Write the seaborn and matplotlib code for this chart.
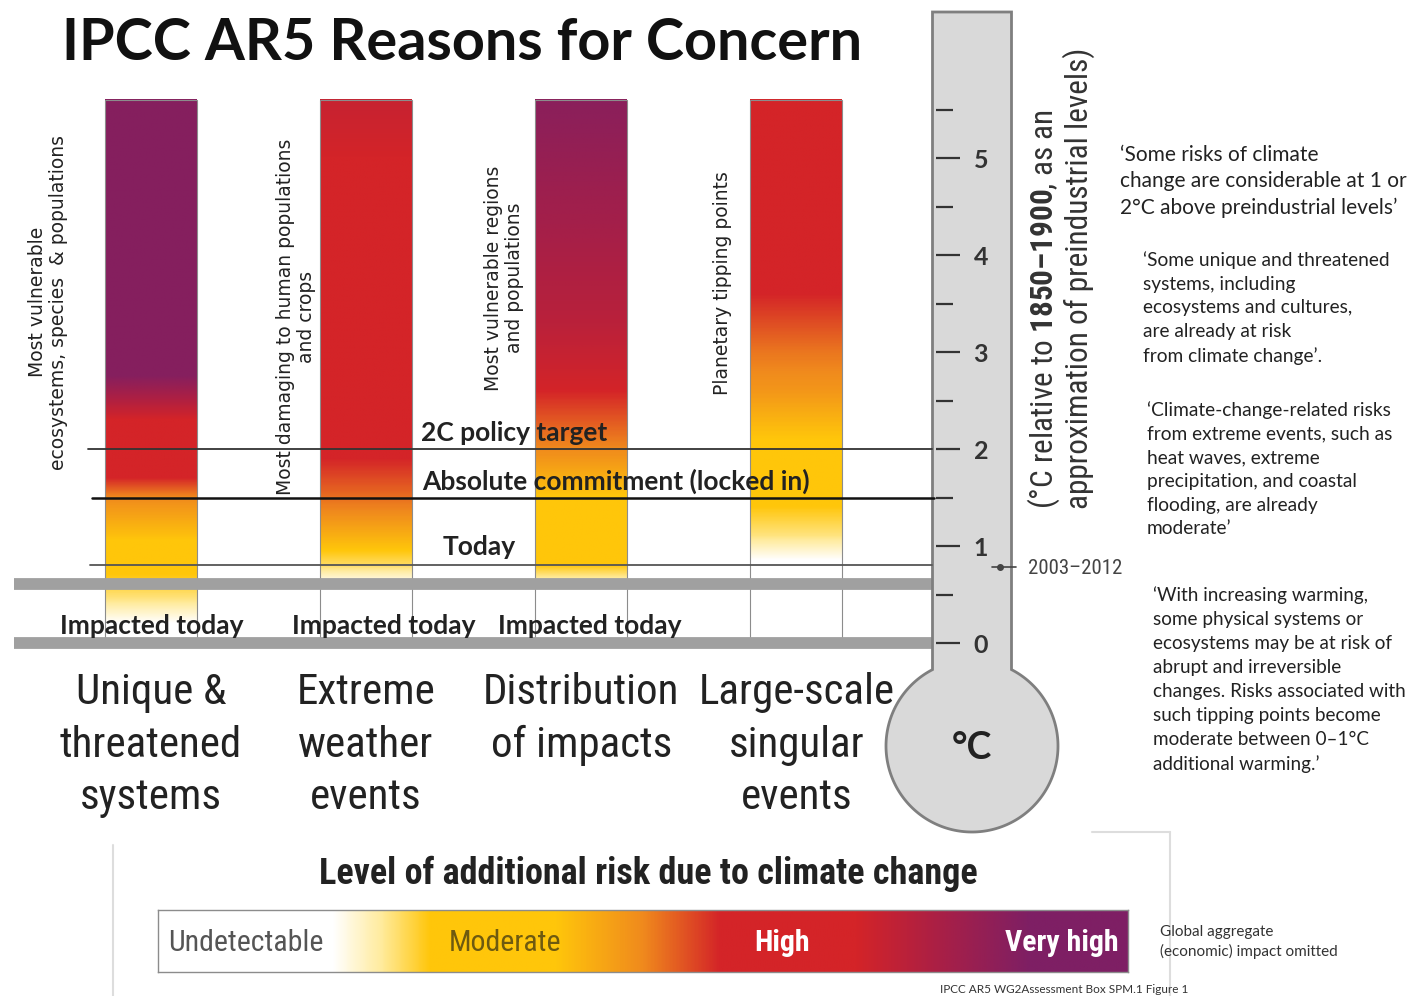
import numpy as np
import seaborn as sns
import matplotlib.pyplot as plt
import matplotlib.font_manager as fm
from matplotlib.patches import Rectangle, Polygon
from matplotlib.lines import Line2D
from matplotlib.transforms import Affine2D

# ---- data ----
categories = ['Unique &\nthreatened\nsystems', 'Extreme\nweather\nevents',
              'Distribution\nof impacts', 'Large-scale\nsingular\nevents']
notes = ['Most vulnerable\necosystems, species  & populations',
         'Most damaging to human populations\nand crops',
         'Most vulnerable regions\nand populations',
         'Planetary tipping points']

# risk level (0 undetectable, 1 moderate, 2 high, 3 very high) vs warming (°C)
unique_temp = [0.2, 0.45, 0.7, 1.05, 1.5, 1.7, 2.3, 2.75, 5.6]
unique_risk = [0.0, 0.6, 1.0, 1.0, 1.5, 2.0, 2.0, 2.9, 2.9]
extreme_temp = [0.6, 0.8, 0.95, 1.35, 1.9, 5.0, 5.6]
extreme_risk = [0.0, 0.7, 1.0, 1.5, 2.0, 2.0, 2.15]
distrib_temp = [0.6, 0.64, 0.8, 1.5, 2.0, 2.6, 3.3, 5.6]
distrib_risk = [0.0, 0.4, 1.0, 1.0, 1.5, 2.0, 2.3, 2.85]
singular_temp = [0.85, 1.1, 1.4, 2.1, 2.6, 3.0, 3.6, 5.6]
singular_risk = [0.0, 0.6, 1.0, 1.0, 1.4, 1.6, 2.0, 2.0]
bar_top = 5.6

policy_target = 2.0      # 2C policy target
locked_in = 1.5          # absolute commitment
today = 0.8
recent = 0.78            # 2003-2012
impacted_band = [0.0, 0.61]
thermo_ticks = [0, 1, 2, 3, 4, 5]

legend_labels = ['Undetectable', 'Moderate', 'High', 'Very high']
legend_pos = [0.0, 0.18, 0.28, 0.41, 0.5, 0.58, 0.72, 0.9, 1.0]
legend_risk = [0.0, 0.0, 1.0, 1.0, 1.5, 2.0, 2.0, 3.0, 3.0]

quotes = [
    '\u2018Some risks of climate\nchange are considerable at 1 or\n2\u00b0C above preindustrial levels\u2019',
    '\u2018Some unique and threatened\nsystems, including\necosystems and cultures,\nare already at risk\nfrom climate change\u2019.',
    '\u2018Climate-change-related risks\nfrom extreme events, such as\nheat waves, extreme\nprecipitation, and coastal\nflooding, are already\nmoderate\u2019',
    '\u2018With increasing warming,\nsome physical systems or\necosystems may be at risk of\nabrupt and irreversible\nchanges. Risks associated with\nsuch tipping points become\nmoderate between 0\u20131\u00b0C\nadditional warming.\u2019',
]

# ---- style ----
W, H = 1412, 996
sns.set_theme(style='white')
names = {f.name for f in fm.fontManager.ttflist}


def pick(*cands):
    for c in cands:
        if c in names:
            return c
    return 'DejaVu Sans'


BODY = pick('Lato', 'Open Sans', 'DejaVu Sans')
COND = pick('Liberation Sans Narrow', 'DejaVu Sans Condensed', 'Roboto Condensed', 'Liberation Sans')
plt.rcParams['font.family'] = [BODY, 'DejaVu Sans']
plt.rcParams['mathtext.fontset'] = 'custom'
plt.rcParams['mathtext.rm'] = COND
plt.rcParams['mathtext.bf'] = COND + ':bold'

risk_cmap = sns.blend_palette(['#FFFFFF', '#FFEB9C', '#FFC60B', '#F08A1D',
                               '#D42428', '#A81F47', '#7E1F64'], as_cmap=True)

fig = plt.figure(figsize=(W / 100, H / 100), dpi=100)
fig.patch.set_facecolor('white')
px = Affine2D().scale(1 / W, -1 / H).translate(0, 1) + fig.transFigure


def ftext(x, y, s, **kw):
    return fig.text(x / W, 1 - y / H, s, **kw)


# main axes: x in pixels, y in °C
zero_px, deg_px = 643, 97
ylim = ((zero_px - H) / deg_px, zero_px / deg_px)
ax = fig.add_axes([0, 0, 1, 1])
ax.axis('off')

centers = 151 + 215.1 * np.arange(len(categories))
bar_w = 92
grid = np.linspace(0, bar_top, 500)
profiles = [(unique_temp, unique_risk), (extreme_temp, extreme_risk),
            (distrib_temp, distrib_risk), (singular_temp, singular_risk)]
for c, (t, r) in zip(centers, profiles):
    col = np.interp(grid, t, r)[:, None]
    ax.imshow(col, cmap=risk_cmap, vmin=0, vmax=3, origin='lower', aspect='auto',
              interpolation='bilinear', extent=[c - bar_w / 2, c + bar_w / 2, 0, bar_top], zorder=1)
    ax.add_patch(Rectangle((c - bar_w / 2, 0), bar_w, bar_top, fill=False,
                           ec='#8c8c8c', lw=0.8, zorder=2))

# grey band marking "impacted today"
for t in impacted_band:
    ax.plot([14, 933], [t, t], color='#A0A0A0', lw=8.5, solid_capstyle='butt', zorder=3)

# level lines
ax.plot([88, 932], [policy_target] * 2, color='#333333', lw=1.3, zorder=4)
ax.plot([92, 934], [locked_in] * 2, color='#111111', lw=1.8, zorder=4)
ax.plot([90, 932], [today] * 2, color='#555555', lw=1.3, zorder=4)

lvl_kw = dict(fontsize=19, fontweight='bold', color='#222222', va='bottom', zorder=5)
ax.text(421, policy_target + 0.04, '2C policy target', **lvl_kw)
ax.text(422, locked_in + 0.04, 'Absolute commitment (locked in)', **lvl_kw)
ax.text(443, today + 0.07, 'Today', **lvl_kw)
for x in [152, 384, 590]:
    ftext(x, 626, 'Impacted today', ha='center', va='center',
          fontsize=19, fontweight='bold', color='#222222', zorder=5)

for c, lab in zip(centers, categories):
    ax.text(c, -0.3, lab, ha='center', va='top', fontsize=31, family=[COND, 'DejaVu Sans'],
            color='#222222', linespacing=1.36)

note_x = [48, 296, 504, 723]
note_y = [302, 317, 278, 283]
for x, y, s in zip(note_x, note_y, notes):
    ftext(x, y, s, rotation=90, ha='center', va='center', multialignment='center',
          fontsize=13.5, family=['DejaVu Sans'], color='#222222', linespacing=1.1)

# thermometer body
half, r_b, cx, cy = 39.5, 86, 972, 746
a0 = np.arccos(half / r_b)
ang = np.linspace(np.pi + a0, -a0, 200)
arc = np.column_stack([cx + r_b * np.cos(ang), cy + r_b * np.sin(ang)])
body = np.vstack([[cx - half, 12], arc, [cx + half, 12]])
ax.add_patch(Polygon(body, closed=True, fc='#D9D9D9', ec='#7F7F7F', lw=2,
                     transform=px, zorder=3))
ftext(972, 748, '\u00b0C', ha='center', va='center', fontsize=27, fontweight='bold', color='#222222')

ax.plot([992, 1016], [recent] * 2, color='#444444', lw=1.2, zorder=5)
ax.plot([1000], [recent], 'o', color='#444444', ms=4, zorder=5)
ftext(1028, 568, '2003\u20132012', va='center', fontsize=15, family=[COND, 'DejaVu Sans'], color='#444444')

ftext(1060, 278, '(\u00b0C relative to $\\mathbf{1850\u20131900}$, as an\napproximation of preindustrial levels)',
      rotation=90, ha='center', va='center', multialignment='left', fontsize=22.5,
      family=[COND, 'DejaVu Sans'], color='#333333', linespacing=1.0)

ax.set_xlim(0, W)
ax.set_ylim(*ylim)

# thermometer scale
ax_th = fig.add_axes([935 / W, 0, 1 / W, 1])
ax_th.set_ylim(*ylim)
ax_th.patch.set_alpha(0)
for s in ax_th.spines.values():
    s.set_visible(False)
ax_th.set_xticks([])
ax_th.yaxis.tick_right()
ax_th.set_yticks(thermo_ticks)
ax_th.set_yticks(np.array(thermo_ticks) + 0.5, minor=True)
ax_th.tick_params(axis='y', which='major', direction='out', length=17, width=1.6,
                  color='#333333', pad=10, labelsize=18, labelcolor='#333333')
ax_th.tick_params(axis='y', which='minor', direction='out', length=12, width=1.6, color='#333333')
for lbl in ax_th.get_yticklabels():
    lbl.set_fontweight('bold')

# quotes on the right
ftext(1120, 145, quotes[0], va='top', fontsize=15, color='#222222', linespacing=1.4)
ftext(1143, 251, quotes[1], va='top', fontsize=13.8, color='#222222', linespacing=1.48)
ftext(1147, 401, quotes[2], va='top', fontsize=13.8, color='#222222', linespacing=1.48)
ftext(1153, 586, quotes[3], va='top', fontsize=13.6, color='#222222', linespacing=1.5)

# title
ftext(62, 44, 'IPCC AR5 Reasons for Concern', va='center', fontsize=41.5, fontweight='bold', color='#111111')

# legend panel
for seg in [([113, 113], [845, 996]), ([1170, 1170], [832, 996]), ([1092, 1170], [832, 832])]:
    fig.add_artist(Line2D(seg[0], seg[1], color='#DDDDDD', lw=1.5, transform=px))
ftext(648, 874, 'Level of additional risk due to climate change', ha='center', va='center',
      fontsize=26, fontweight='semibold', family=[COND, 'DejaVu Sans'], color='#222222')

ax_lg = fig.add_axes([158 / W, 1 - 972 / H, 970 / W, 62 / H])
xs = np.linspace(0, 1, 800)
ax_lg.imshow(np.interp(xs, legend_pos, legend_risk)[None, :], cmap=risk_cmap, vmin=0, vmax=3,
             aspect='auto', extent=[0, 1, 0, 1], interpolation='bilinear')
ax_lg.set_xticks([])
ax_lg.set_yticks([])
for s in ax_lg.spines.values():
    s.set_color('#8c8c8c')
    s.set_linewidth(1)
lg_kw = dict(va='center', fontsize=21.5, family=[COND, 'DejaVu Sans'], transform=ax_lg.transAxes)
ax_lg.text(0.01, 0.47, legend_labels[0], color='#555555', **lg_kw)
ax_lg.text(0.30, 0.47, legend_labels[1], color='#6E5A10', **lg_kw)
ax_lg.text(0.615, 0.47, legend_labels[2], color='white', fontweight='bold', **lg_kw)
ax_lg.text(0.99, 0.47, legend_labels[3], color='white', ha='right', fontweight='bold', **lg_kw)

ftext(1160, 942, 'Global aggregate\n(economic) impact omitted', va='center', fontsize=11,
      color='#333333', linespacing=1.35)
ftext(940, 995, 'IPCC AR5 WG2Assessment Box SPM.1 Figure 1', va='bottom', fontsize=8.5, color='#333333')

fig.savefig('out.png', dpi=100, facecolor='white')
